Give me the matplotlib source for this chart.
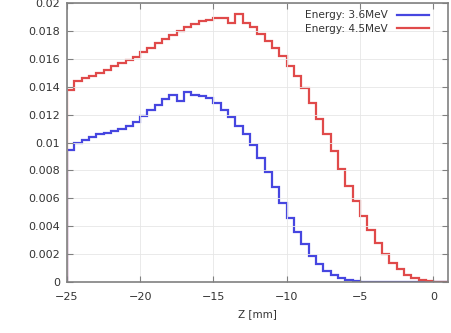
import numpy as np
import matplotlib
matplotlib.use("Agg")
import matplotlib.pyplot as plt
from matplotlib.ticker import FuncFormatter

# bin edges along Z (0.5 mm bins)
z_edges = np.arange(-25.0, 1.01, 0.5)

# energy deposit per bin
dose_36 = [0.0095, 0.0100, 0.0102, 0.0104, 0.0106, 0.0107, 0.0108, 0.0110,
           0.0112, 0.0115, 0.0119, 0.0123, 0.0127, 0.0131, 0.0134, 0.0130,
           0.0136, 0.0134, 0.0133, 0.0132, 0.0128, 0.0123, 0.0118, 0.0112,
           0.0106, 0.0098, 0.0089, 0.0079, 0.0068, 0.0057, 0.0046, 0.0036,
           0.0027, 0.0019, 0.0013, 0.0008, 0.0005, 0.0003, 0.00012, 0.00004,
           0.0, 0.0, 0.0, 0.0, 0.0, 0.0, 0.0, 0.0, 0.0, 0.0, 0.0, 0.0]
dose_45 = [0.0138, 0.0144, 0.0146, 0.0148, 0.0150, 0.0152, 0.0155, 0.0157,
           0.0159, 0.0161, 0.0165, 0.0168, 0.0171, 0.0174, 0.0177, 0.0180,
           0.0183, 0.0185, 0.0187, 0.0188, 0.0189, 0.0189, 0.0186, 0.0192,
           0.0186, 0.0183, 0.0178, 0.0173, 0.0168, 0.0162, 0.0155, 0.0148,
           0.0139, 0.0128, 0.0117, 0.0106, 0.0094, 0.0081, 0.0069, 0.0058,
           0.0047, 0.0037, 0.0028, 0.0020, 0.0014, 0.0009, 0.0005, 0.0003,
           0.00015, 0.00005, 0.00002, 0.0]

labels = ["Energy: 3.6MeV", "Energy: 4.5MeV"]
colors = ["#4646e0", "#e04a4a"]

fig = plt.figure(figsize=(4.52, 3.33), dpi=100)
ax = fig.add_axes([0.148, 0.153, 0.843, 0.838])

for vals, lab, col in zip([dose_36, dose_45], labels, colors):
    ax.stairs(vals, z_edges, color=col, lw=1.6, label=lab)

ax.set_xlim(-25, 1)
ax.set_ylim(0, 0.02)
ax.set_xticks(np.arange(-25, 1, 5))
ax.set_yticks(np.arange(0, 0.0201, 0.002))
ax.yaxis.set_major_formatter(FuncFormatter(lambda v, p: "%g" % round(v, 4)))

ax.tick_params(direction="in", length=4, width=0.8, colors="#808080",
               labelcolor="#333333", labelsize=8, top=True, right=True)
ax.tick_params(axis="x", pad=7)
ax.tick_params(axis="y", pad=5)
for s in ax.spines.values():
    s.set_color("#808080")
    s.set_linewidth(1.2)
ax.grid(color="#e6e6e6", lw=0.6)

ax.set_xlabel("Z [mm]", fontsize=7.5, color="#333333", labelpad=5)

leg = ax.legend(loc="upper right", markerfirst=False, frameon=False,
                fontsize=7.6, handlelength=3.0, borderpad=0.2,
                labelspacing=0.3, handletextpad=0.9,
                bbox_to_anchor=(0.97, 1.0))
for t in leg.get_texts():
    t.set_color("#333333")

fig.savefig("out.png", dpi=100)
